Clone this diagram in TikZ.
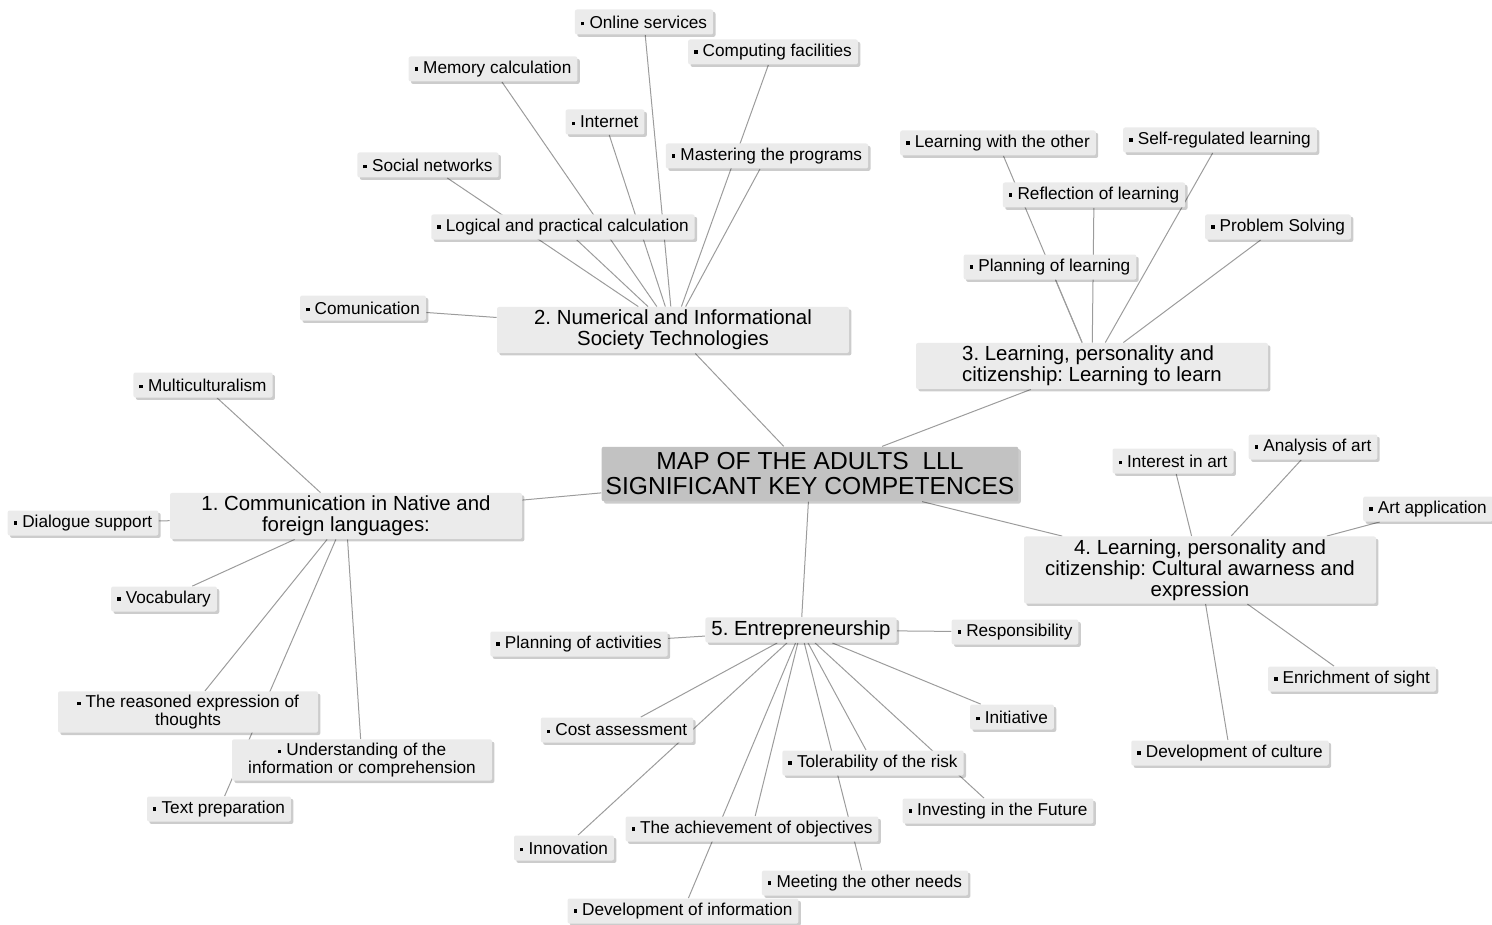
\documentclass[tikz,border=0pt]{standalone}
\usepackage{fontspec}
\setmainfont{Liberation Sans}
\usetikzlibrary{shadows,backgrounds}
\definecolor{boxgray}{HTML}{EBEBEB}
\definecolor{mapgray}{HTML}{C2C2C2}
\definecolor{linegray}{HTML}{9C9C9C}
\newcommand{\bul}{\rule[0.16em]{0.2em}{0.2em}\hspace{0.3em}}
\frenchspacing

\begin{document}
\begin{tikzpicture}[x=0.5pt, y=-0.5pt,
    leaf/.style={fill=boxgray, rounded corners=1pt, inner xsep=3pt, inner ysep=2pt,
        minimum height=12.5pt, align=center, font=\fontsize{8.6}{8.6}\selectfont,
        drop shadow={shadow xshift=1.2pt, shadow yshift=-1.2pt, fill=black, opacity=0.2}},
    wideleaf/.style={leaf, minimum width=130pt},
    topic/.style={leaf, font=\fontsize{10.2}{10.5}\selectfont, minimum width=176pt, inner ysep=1.5pt},
    map/.style={leaf, fill=mapgray, font=\fontsize{12.3}{12.5}\selectfont, inner xsep=2pt, inner ysep=3pt},
    link/.style={draw=linegray, line width=0.5pt}]
    \useasboundingbox (0, 0) rectangle (1492, 925);

    \node[map] (map) at (810, 474) {MAP OF THE ADULTS\ \ LLL\\SIGNIFICANT KEY COMPETENCES};

    \node[topic] (lang) at (346, 516) {1. Communication in Native and\\foreign languages:};
    \node[topic] (tech) at (673, 330) {2. Numerical and Informational\\Society Technologies};
    \node[topic, align=left] (learn) at (1092, 366) {3. Learning, personality and\\citizenship: Learning to learn};
    \node[topic] (culture) at (1200, 570) {4. Learning, personality and\\citizenship: Cultural awarness and\\expression};
    \node[topic, minimum width=0pt] (entre) at (801, 630) {5. Entrepreneurship};

    \node[leaf] (multi) at (203, 385) {\bul Multiculturalism};
    \node[leaf] (dialogue) at (83, 523) {\bul Dialogue support};
    \node[leaf] (vocab) at (164, 599) {\bul Vocabulary};
    \node[wideleaf] (reasoned) at (188, 712) {\bul The reasoned expression of\\thoughts};
    \node[wideleaf] (underst) at (362, 760) {\bul Understanding of the\\information or comprehension};
    \node[leaf] (textprep) at (219, 809) {\bul Text preparation};

    \node[leaf] (online) at (644, 22) {\bul Online services};
    \node[leaf] (computing) at (773, 52) {\bul Computing facilities};
    \node[leaf] (memory) at (493, 69) {\bul Memory calculation};
    \node[leaf] (internet) at (605, 122) {\bul Internet};
    \node[leaf] (mastering) at (767, 156) {\bul Mastering the programs};
    \node[leaf] (social) at (428, 165) {\bul Social networks};
    \node[leaf] (logical) at (563, 227) {\bul Logical and practical calculation};
    \node[leaf] (comm) at (363, 308) {\bul Comunication};

    \node[leaf] (withother) at (998, 143) {\bul Learning with the other};
    \node[leaf] (selfreg) at (1220, 140) {\bul Self-regulated learning};
    \node[leaf] (reflection) at (1094, 195) {\bul Reflection of learning};
    \node[leaf] (problem) at (1278, 227) {\bul Problem Solving};
    \node[leaf] (planlearn) at (1050, 267) {\bul Planning of learning};

    \node[leaf] (interest) at (1173, 461) {\bul Interest in art};
    \node[leaf] (analysis) at (1313, 447) {\bul Analysis of art};
    \node[leaf] (artapp) at (1428, 509) {\bul Art application};
    \node[leaf] (sight) at (1352, 679) {\bul Enrichment of sight};
    \node[leaf] (devculture) at (1230, 753) {\bul Development of culture};

    \node[leaf] (planact) at (579, 644) {\bul Planning of activities};
    \node[leaf] (respons) at (1015, 632) {\bul Responsibility};
    \node[leaf] (cost) at (617, 730) {\bul Cost assessment};
    \node[leaf] (initiative) at (1012, 717) {\bul Initiative};
    \node[leaf] (risk) at (873, 763) {\bul Tolerability of the risk};
    \node[leaf] (future) at (998, 811) {\bul Investing in the Future};
    \node[leaf] (objectives) at (752, 829) {\bul The achievement of objectives};
    \node[leaf] (innovation) at (564, 848) {\bul Innovation};
    \node[leaf] (needs) at (865, 883) {\bul Meeting the other needs};
    \node[leaf] (devinfo) at (683, 911) {\bul Development of information};

    \begin{scope}[on background layer]
        \draw[link] (map) -- (lang);
        \draw[link] (map) -- (tech);
        \draw[link] (map) -- (learn);
        \draw[link] (map) -- (culture);
        \draw[link] (map) -- (entre);

        \draw[link] (lang) -- (multi);
        \draw[link] (lang) -- (dialogue);
        \draw[link] (lang) -- (vocab);
        \draw[link] (lang) -- (reasoned);
        \draw[link] (lang) -- (underst);
        \draw[link] (lang) -- (textprep);

        \draw[link] (tech) -- (online);
        \draw[link] (tech) -- (computing);
        \draw[link] (tech) -- (memory);
        \draw[link] (tech) -- (internet);
        \draw[link] (tech) -- (mastering);
        \draw[link] (tech) -- (social);
        \draw[link] (tech) -- (logical);
        \draw[link] (tech) -- (comm);

        \draw[link] (learn) -- (withother);
        \draw[link] (learn) -- (selfreg);
        \draw[link] (learn) -- (reflection);
        \draw[link] (learn) -- (problem);
        \draw[link] (learn) -- (planlearn);

        \draw[link] (culture) -- (interest);
        \draw[link] (culture) -- (analysis);
        \draw[link] (culture) -- (artapp);
        \draw[link] (culture) -- (sight);
        \draw[link] (culture) -- (devculture);

        \draw[link] (entre) -- (planact);
        \draw[link] (entre) -- (respons);
        \draw[link] (entre) -- (cost);
        \draw[link] (entre) -- (initiative);
        \draw[link] (entre) -- (risk);
        \draw[link] (entre) -- (future);
        \draw[link] (entre) -- (objectives);
        \draw[link] (entre) -- (innovation);
        \draw[link] (entre) -- (needs);
        \draw[link] (entre) -- (devinfo);
    \end{scope}
\end{tikzpicture}
\end{document}
